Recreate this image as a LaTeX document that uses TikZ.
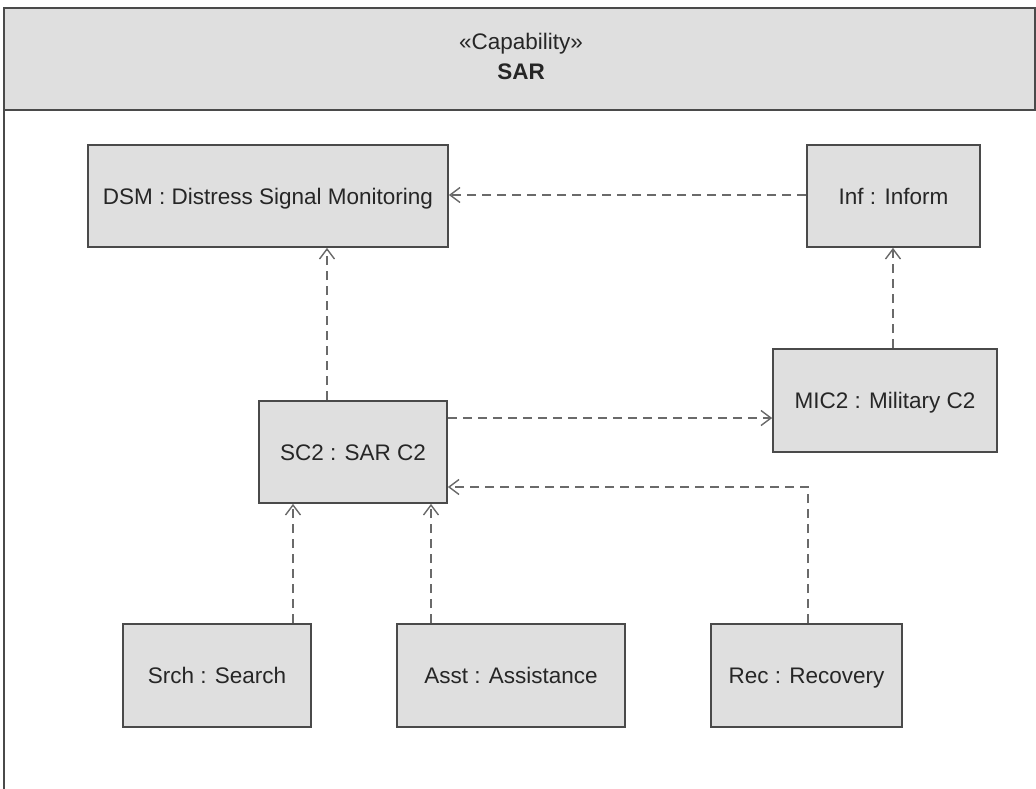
\documentclass[tikz,border=0pt]{standalone}
\usepackage{fontspec}
\setmainfont{Liberation Sans}
\usetikzlibrary{arrows.meta}
\definecolor{boxfill}{HTML}{DFDFDF}
\definecolor{boxline}{HTML}{4A4A4A}
\definecolor{depline}{HTML}{6A6A6A}
\tikzset{
  part/.style={draw=boxline, line width=1.7pt, fill=boxfill, inner sep=0pt,
    text height=16pt, text depth=0pt,
    font=\fontsize{22.5}{27}\selectfont, text=black!85},
  dep/.style={draw=depline, line width=2pt, dash pattern=on 9pt off 6pt,
    -{Straight Barb[length=10pt, width=15pt, line width=1.4pt]}},
}
\begin{document}
\begin{tikzpicture}[x=1pt, y=-1pt]
\useasboundingbox (0,0) rectangle (1036,788);
% frame and header
\draw[boxline, line width=1.7pt, fill=boxfill] (4,110) -- (4,8) -- (1035,8) -- (1035,110) -- cycle;
\draw[boxline, line width=1.7pt] (4,110) -- (4,790);
\node[align=center, font=\fontsize{22.5}{30}\selectfont, text=black!85] (hdr) at (521,56)
  {«Capability»\\\textbf{SAR}};
% parts
\node[part, minimum width=360pt, minimum height=102pt] (DSM) at (268,196) {DSM : Distress Signal Monitoring};
\node[part, minimum width=173pt, minimum height=102pt] (Inf) at (893.5,196) {Inf : Inform};
\node[part, minimum width=188pt, minimum height=102pt] (SC2) at (353,452) {SC2 : SAR C2};
\node[part, minimum width=224pt, minimum height=103pt] (MIC2) at (885,400.5) {MIC2 : Military C2};
\node[part, minimum width=188pt, minimum height=103pt] (Srch) at (217,675.5) {Srch : Search};
\node[part, minimum width=228pt, minimum height=103pt] (Asst) at (511,675.5) {Asst : Assistance};
\node[part, minimum width=191pt, minimum height=103pt] (Rec) at (806.5,675.5) {Rec : Recovery};
% dependencies
\draw[dep] ([yshift=1pt]Inf.west) -- ([yshift=1pt]Inf.west -| DSM.east);
\draw[dep] ([xshift=-26pt]SC2.north) -- ([xshift=-26pt]SC2.north |- DSM.south);
\draw[dep] ([yshift=34pt]SC2.east) -- ([yshift=34pt]SC2.east -| MIC2.west);
\draw[dep] ([xshift=8pt]MIC2.north) -- ([xshift=8pt]MIC2.north |- Inf.south);
\draw[dep] ([xshift=76pt]Srch.north) -- ([xshift=76pt]Srch.north |- SC2.south);
\draw[dep] ([xshift=-80pt]Asst.north) -- ([xshift=-80pt]Asst.north |- SC2.south);
\coordinate (RecBend) at ([xshift=1.5pt]Rec.north |- 0,487);
\draw[dep] ([xshift=1.5pt]Rec.north) -- (RecBend) -- (RecBend -| SC2.east);
\end{tikzpicture}
\end{document}
